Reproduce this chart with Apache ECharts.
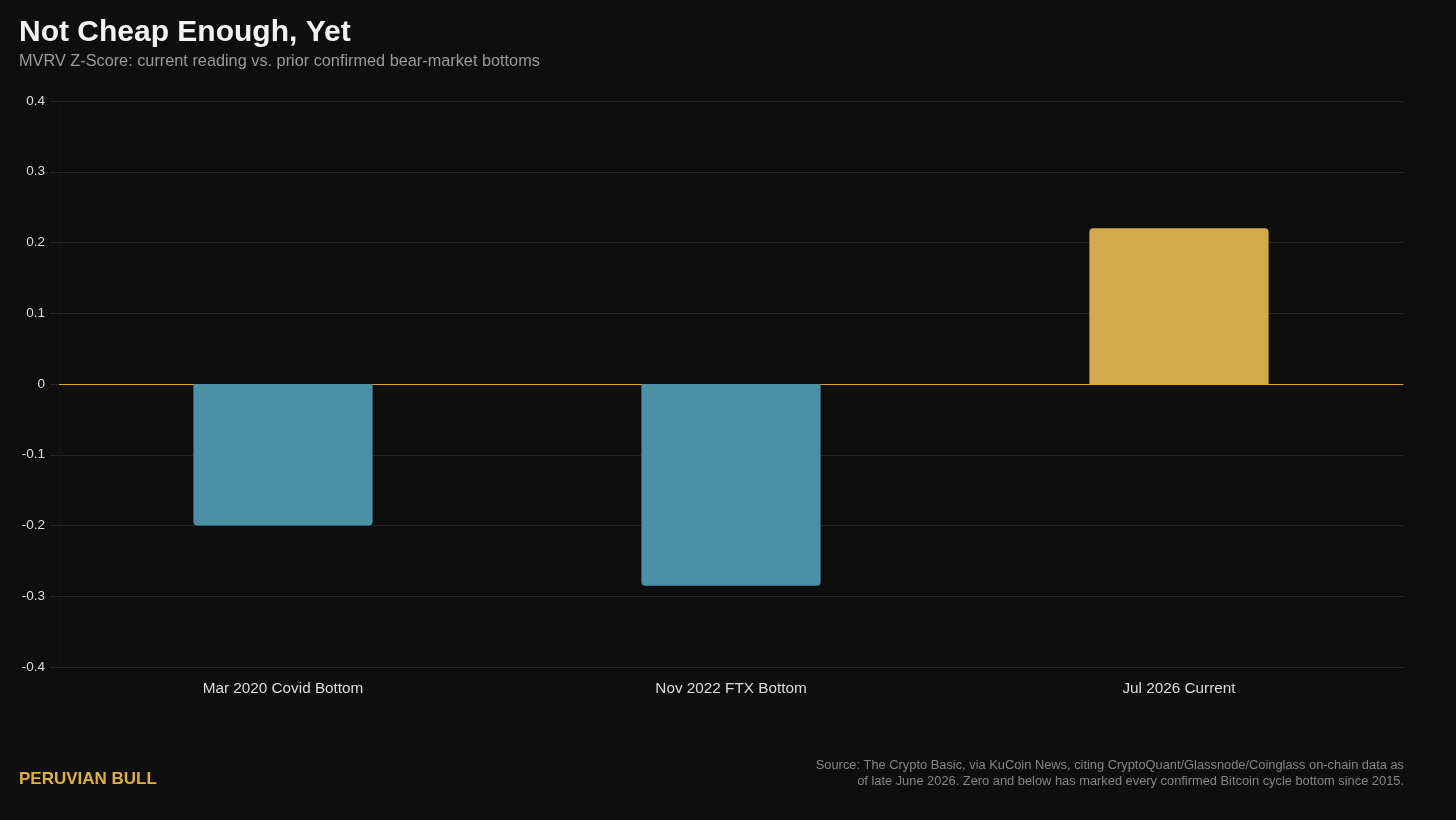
<!DOCTYPE html>
<html>
<head>
<meta charset="utf-8">
<script src="https://cdn.jsdelivr.net/npm/echarts@6/dist/echarts.min.js"></script>
<style>
  html, body { margin: 0; padding: 0; background: #0e0e0e; }
  #chart { width: 1456px; height: 820px; }
</style>
</head>
<body>
<div id="chart"></div>
<script>
// Données
const categories = ['Mar 2020 Covid Bottom', 'Nov 2022 FTX Bottom', 'Jul 2026 Current'];
const zScores = [-0.2, -0.285, 0.22];
const barColors = ['#4b91a5', '#4b91a5', '#d4a94a'];
const yTicks = { min: -0.4, max: 0.4, interval: 0.1 };

const font = '"Liberation Sans", Arial, sans-serif';
const sourceLines = [
    'Source: The Crypto Basic, via KuCoin News, citing CryptoQuant/Glassnode/Coinglass on-chain data as',
    'of late June 2026. Zero and below has marked every confirmed Bitcoin cycle bottom since 2015.'
];

const chart = echarts.init(document.getElementById('chart'), null, { renderer: 'canvas' });

const option = {
    backgroundColor: '#0e0e0e',
    textStyle: { fontFamily: font },
    title: [
        {
            text: 'Not Cheap Enough, Yet',
            left: 19, top: 18, padding: 0,
            textStyle: { color: '#f2f2f2', fontSize: 30, fontWeight: 'bold', fontFamily: font }
        },
        {
            text: 'MVRV Z-Score: current reading vs. prior confirmed bear-market bottoms',
            left: 19, top: 54, padding: 0,
            textStyle: { color: '#9a9a9a', fontSize: 16.3, fontWeight: 'normal', fontFamily: font }
        }
    ],
    graphic: [
        {
            type: 'text',
            left: 19, top: 771,
            style: { text: 'PERUVIAN BULL', fill: '#e0b040', font: 'bold 17px ' + font }
        },
        // une ligne par élément pour garder l'alignement à droite
        ...sourceLines.map((line, i) => ({
            type: 'text',
            right: 52, top: 759 + i * 16,
            style: { text: line, fill: '#858585', font: '12.85px ' + font }
        }))
    ],
    grid: { left: 59, right: 53, top: 101, bottom: 153, containLabel: false },
    xAxis: {
        type: 'category',
        data: categories,
        axisLine: { show: true, onZero: true, lineStyle: { color: '#e0a030', width: 1.2 } },
        axisTick: { show: false },
        axisLabel: { color: '#dcdcdc', fontSize: 15.3, margin: 14, fontFamily: font }
    },
    yAxis: {
        type: 'value',
        min: yTicks.min,
        max: yTicks.max,
        interval: yTicks.interval,
        axisLine: { show: true, lineStyle: { color: '#161616' } },
        axisTick: { show: true, length: 9, lineStyle: { color: '#2a2a2a' } },
        axisLabel: {
            color: '#dcdcdc', fontSize: 13.5, margin: 14, fontFamily: font,
            formatter: v => (Math.round(v * 10) / 10).toString()
        },
        splitLine: { show: true, lineStyle: { color: '#262626', width: 1 } }
    },
    series: [
        {
            type: 'bar',
            barWidth: '40%',
            data: zScores.map((v, i) => ({
                value: v,
                itemStyle: {
                    color: barColors[i],
                    borderRadius: v >= 0 ? [4, 4, 0, 0] : [0, 0, 4, 4]
                }
            })),
            silent: true
        }
    ]
};

chart.setOption(option);

window.addEventListener('resize', chart.resize);
</script>
</body>
</html>
